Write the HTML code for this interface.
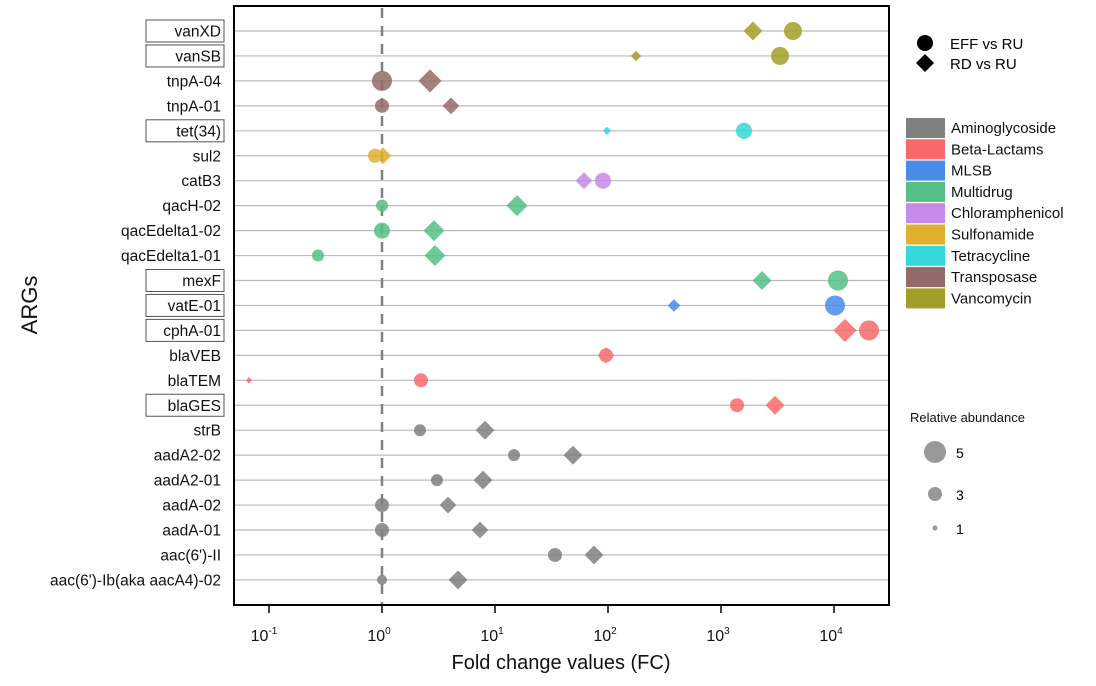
<!DOCTYPE html>
<html><head><meta charset="utf-8"><style>body{margin:0;background:#fff}svg{display:block;font-family:"Liberation Sans",Arial,sans-serif}</style></head>
<body>
<svg width="1096" height="686" viewBox="0 0 1096 686" xmlns="http://www.w3.org/2000/svg">
<g id="grid" stroke="#bbb" stroke-width="1.2"></g>
<line x1="382" y1="8" x2="382" y2="604" stroke="#808080" stroke-width="2.5" stroke-dasharray="10,8"/>
<g id="pts" opacity="0.85"></g>
<rect x="234" y="6" width="655" height="599" fill="none" stroke="#000" stroke-width="2"/>
<g id="labels" font-size="15.5" text-anchor="end" fill="#111"></g>
<g id="ticks" stroke="#000" stroke-width="1.5"></g>
<g font-size="16" text-anchor="middle" fill="#111">
<text x="264" y="641">10<tspan font-size="10" dy="-7">-1</tspan></text>
<text x="379" y="641">10<tspan font-size="10" dy="-7">0</tspan></text>
<text x="492" y="641">10<tspan font-size="10" dy="-7">1</tspan></text>
<text x="605" y="641">10<tspan font-size="10" dy="-7">2</tspan></text>
<text x="718" y="641">10<tspan font-size="10" dy="-7">3</tspan></text>
<text x="831" y="641">10<tspan font-size="10" dy="-7">4</tspan></text>
</g>
<text x="561" y="669" font-size="20" text-anchor="middle" fill="#111">Fold change values (FC)</text>
<text transform="translate(37,305) rotate(-90)" font-size="22" text-anchor="middle" fill="#111">ARGs</text>
<circle cx="925" cy="43" r="8" fill="#000"/>
<path d="M925 54 L934 63 L925 72 L916 63Z" fill="#000"/>
<text x="950" y="49" font-size="15">EFF vs RU</text>
<text x="950" y="69" font-size="15">RD vs RU</text>
<g id="leg" font-size="15" fill="#111"></g>
<text x="910" y="422" font-size="13" fill="#111">Relative abundance</text>
<circle cx="935" cy="452" r="11" fill="#999"/><text x="956" y="458" font-size="14">5</text>
<circle cx="935" cy="494" r="7" fill="#999"/><text x="956" y="500" font-size="14">3</text>
<circle cx="935" cy="528" r="2.5" fill="#999"/><text x="956" y="534" font-size="14">1</text>
<script>
var NS="http://www.w3.org/2000/svg";
function el(p,t,a,txt){var e=document.createElementNS(NS,t);for(var k in a)e.setAttribute(k,a[k]);if(txt)e.textContent=txt;document.getElementById(p).appendChild(e);return e;}
var C={A:"#808080",B:"#f86a6a",M:"#4a8ae8",U:"#55bf85",C:"#c68ae8",S:"#e0b030",T:"#35d8d8",P:"#956a6a",V:"#a39e28"};
var rows=[
["vanXD",1,"V",793,9,753,9],["vanSB",1,"V",780,9,636,5],["tnpA-04",0,"P",382,10,430,11],["tnpA-01",0,"P",382,7,451,8],
["tet(34)",1,"T",744,8,607,4],["sul2",0,"S",375,7,383,8],["catB3",0,"C",603,8,584,8],["qacH-02",0,"U",382,6,517,10],
["qacEdelta1-02",0,"U",382,8,434,10],["qacEdelta1-01",0,"U",318,6,435,10],["mexF",1,"U",838,10,762,9],["vatE-01",1,"M",835,10,674,6],
["cphA-01",1,"B",869,10,845,11],["blaVEB",0,"B",606,7,606,8],["blaTEM",0,"B",421,7,249,3],["blaGES",1,"B",737,7,775,9],
["strB",0,"A",420,6,485,9],["aadA2-02",0,"A",514,6,573,9],["aadA2-01",0,"A",437,6,483,9],["aadA-02",0,"A",382,7,448,8],
["aadA-01",0,"A",382,7,480,8],["aac(6')-II",0,"A",555,7,594,9],["aac(6')-Ib(aka aacA4)-02",0,"A",382,5,458,9]];
rows.forEach(function(r,i){var y=31+24.95*i;
el("grid","line",{x1:235,x2:888,y1:y,y2:y});
var c=C[r[2]];
el("pts","circle",{cx:r[3],cy:y,r:r[4],fill:c});
var x=r[5],s=r[6]*1.05;
el("pts","path",{d:"M"+x+" "+(y-s)+"L"+(x+s)+" "+y+"L"+x+" "+(y+s)+"L"+(x-s)+" "+y+"Z",fill:c});
el("labels","text",{x:221,y:y+5.5},r[0]);
if(r[1])el("labels","rect",{x:146,y:y-11,width:78,height:22,fill:"none",stroke:"#555","stroke-width":1});
});
[269,382,495,608,721,834].forEach(function(x){el("ticks","line",{x1:x,x2:x,y1:605,y2:613});});
[["Aminoglycoside","A"],["Beta-Lactams","B"],["MLSB","M"],["Multidrug","U"],["Chloramphenicol","C"],["Sulfonamide","S"],["Tetracycline","T"],["Transposase","P"],["Vancomycin","V"]].forEach(function(l,i){
var y=128+21.3*i;el("leg","rect",{x:906,y:y-10,width:39,height:20,fill:C[l[1]]});el("leg","text",{x:951,y:y+5},l[0]);});
</script>
</svg>
</body></html>
